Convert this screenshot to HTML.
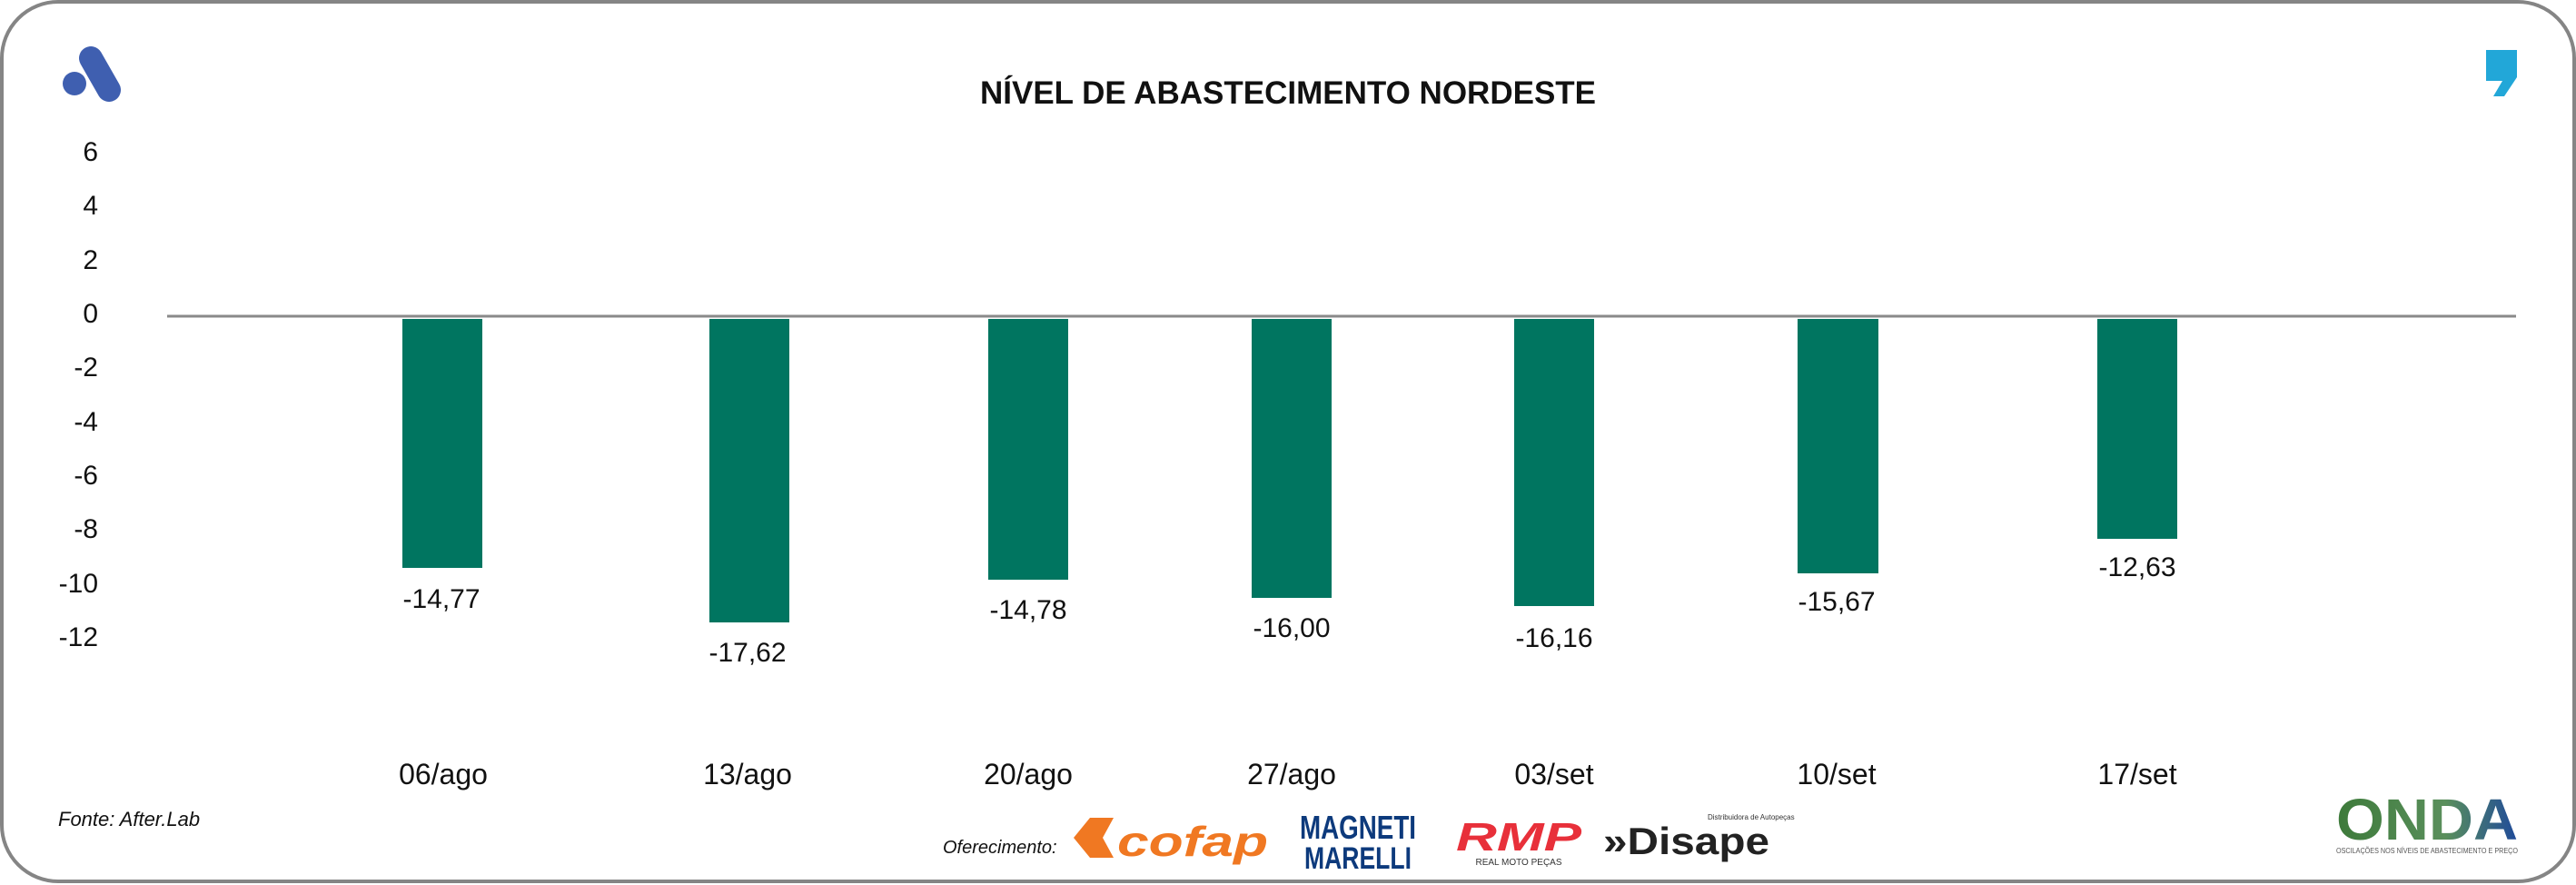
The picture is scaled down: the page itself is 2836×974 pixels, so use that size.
<!DOCTYPE html>
<html><head><meta charset="utf-8"><style>
html,body{margin:0;padding:0;background:#fff;}
svg{display:block;}
text{font-family:"Liberation Sans",sans-serif;}
</style></head><body>
<svg width="2836" height="974" viewBox="0 0 2836 974" xmlns="http://www.w3.org/2000/svg">
<rect x="2" y="2" width="2832" height="968" rx="62" ry="62" fill="#fff" stroke="#858585" stroke-width="4"/>
<!-- A logo -->
<line x1="100" y1="64" x2="120" y2="99" stroke="#3f5fb0" stroke-width="26" stroke-linecap="round"/>
<circle cx="82" cy="92" r="13" fill="#3f5fb0"/>
<!-- comma logo -->
<path d="M2737 55 h34 v30 l-14 21 h-12 l10 -17 h-18 z" fill="#22a7d8"/>
<text x="1418" y="114" text-anchor="middle" font-size="35" font-weight="bold" fill="#111">NÍVEL DE ABASTECIMENTO NORDESTE</text>
<!-- y axis labels -->
<g font-size="30" fill="#111" text-anchor="end">
<text x="108" y="177">6</text>
<text x="108" y="236">4</text>
<text x="108" y="296">2</text>
<text x="108" y="355">0</text>
<text x="108" y="414">-2</text>
<text x="108" y="474">-4</text>
<text x="108" y="533">-6</text>
<text x="108" y="592">-8</text>
<text x="108" y="652">-10</text>
<text x="108" y="711">-12</text>
</g>
<line x1="184" y1="348" x2="2770" y2="348" stroke="#8a8a8a" stroke-width="3"/>
<g fill="#007560">
<rect x="443" y="351" width="88" height="274"/>
<rect x="781" y="351" width="88" height="334"/>
<rect x="1088" y="351" width="88" height="287"/>
<rect x="1378" y="351" width="88" height="307"/>
<rect x="1667" y="351" width="88" height="316"/>
<rect x="1979" y="351" width="89" height="280"/>
<rect x="2309" y="351" width="88" height="242"/>
</g>
<g font-size="30" fill="#111" text-anchor="middle">
<text x="486" y="669">-14,77</text>
<text x="823" y="728">-17,62</text>
<text x="1132" y="681">-14,78</text>
<text x="1422" y="701">-16,00</text>
<text x="1711" y="712">-16,16</text>
<text x="2022" y="672">-15,67</text>
<text x="2353" y="634">-12,63</text>
</g>
<g font-size="32" fill="#111" text-anchor="middle">
<text x="488" y="863">06/ago</text>
<text x="823" y="863">13/ago</text>
<text x="1132" y="863">20/ago</text>
<text x="1422" y="863">27/ago</text>
<text x="1711" y="863">03/set</text>
<text x="2022" y="863">10/set</text>
<text x="2353" y="863">17/set</text>
</g>
<text x="64" y="909" font-size="22" font-style="italic" fill="#111">Fonte: After.Lab</text>
<text x="1038" y="939" font-size="20" font-style="italic" fill="#111">Oferecimento:</text>
<!-- cofap -->
<path d="M1200 900 h26 l-12 22 l12 22 h-26 l-18 -22 z" fill="#f07822"/>
<text x="1230" y="942" font-size="46" font-weight="bold" font-style="italic" fill="#f07822" textLength="166" lengthAdjust="spacingAndGlyphs">cofap</text>
<!-- Magneti Marelli -->
<text x="1495" y="923" text-anchor="middle" font-size="36" font-weight="bold" fill="#0d3a7c" textLength="128" lengthAdjust="spacingAndGlyphs">MAGNETI</text>
<text x="1495" y="956" text-anchor="middle" font-size="34" font-weight="bold" fill="#0d3a7c" textLength="118" lengthAdjust="spacingAndGlyphs">MARELLI</text>
<!-- RMP -->
<text x="1603" y="936" font-size="44" font-weight="bold" font-style="italic" fill="#e8303a" textLength="138" lengthAdjust="spacingAndGlyphs">RMP</text>
<text x="1672" y="952" text-anchor="middle" font-size="10" fill="#333">REAL MOTO PEÇAS</text>
<!-- Disape -->
<text x="1765" y="940" font-size="42" font-weight="bold" fill="#222" textLength="183" lengthAdjust="spacingAndGlyphs">»Disape</text>
<text x="1880" y="902" font-size="8" fill="#333">Distribuidora de Autopeças</text>
<!-- ONDA -->
<defs><linearGradient id="og" x1="0" x2="1"><stop offset="0" stop-color="#3d7a3a"/><stop offset="0.6" stop-color="#5a8f5c"/><stop offset="1" stop-color="#1f4a9a"/></linearGradient></defs>
<text x="2572" y="924" font-size="64" font-weight="bold" fill="url(#og)" textLength="200" lengthAdjust="spacingAndGlyphs">ONDA</text>
<text x="2572" y="939" font-size="8" fill="#555" textLength="200" lengthAdjust="spacingAndGlyphs">OSCILAÇÕES NOS NÍVEIS DE ABASTECIMENTO E PREÇO</text>
</svg>
</body></html>
